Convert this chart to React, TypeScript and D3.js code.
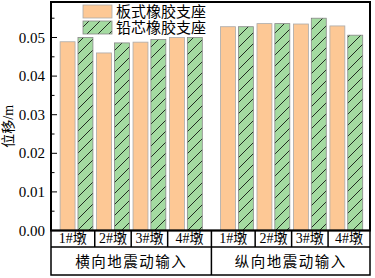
import * as d3 from "d3";

const piers = ["1#墩", "2#墩", "3#墩", "4#墩"];
const groups = ["横向地震动输入", "纵向地震动输入"];
const seriesNames = ["板式橡胶支座", "铅芯橡胶支座"];
// bar values, order: 横向 1#..4#, 纵向 1#..4#
const plateValues = [0.0489, 0.046, 0.0488, 0.05, 0.0528, 0.0536, 0.0535, 0.053];
const leadValues = [0.05, 0.0486, 0.0495, 0.05, 0.0528, 0.0536, 0.055, 0.0506];
// category slots on the x axis (the two groups are set apart a little)
const slots = [1, 2, 3, 4, 5.4, 6.4, 7.4, 8.4];
const yTicks = [0, 0.01, 0.02, 0.03, 0.04, 0.05];

const W = 375;
const H = 278;
const left = 51;
const right = 370;
const top = 2;
const bottom = 230.5;
const row1 = 247;
const row2 = 275;

const serif = "'Liberation Serif', 'Noto Sans CJK SC', serif";

export default function App() {
  const x = d3.scaleLinear().domain([0.3, 9.05]).range([left, right]);
  const y = d3.scaleLinear().domain([0, 0.0592]).range([bottom, top]);
  const unit = x(1) - x(0);
  const bw = 0.41 * unit;
  const off = 0.245 * unit;
  const minor = d3.range(0.005, 0.059, 0.01);

  const bounds = [x(0.3), ...slots.slice(0, -1).map((s, i) => x((s + slots[i + 1]) / 2)), x(9.05)];
  const mid = bounds[4];

  return (
    <svg width={W} height={H} style={{ position: "absolute", left: 0, top: 0, background: "#fff" }}>
      <defs>
        <pattern id="hatch" patternUnits="userSpaceOnUse" width={11} height={11}>
          <rect width={11} height={11} fill="#a4dba1" />
          <line x1={-1} y1={12} x2={12} y2={-1} stroke="#000" strokeWidth={0.8} />
        </pattern>
      </defs>

      {slots.map((s, i) => (
        <g key={i}>
          <rect
            x={x(s) - off - bw / 2}
            y={y(plateValues[i])}
            width={bw}
            height={bottom - y(plateValues[i])}
            fill="#fdc895"
            stroke="#aaa"
            strokeWidth={0.8}
          />
          <rect
            x={x(s) + off - bw / 2}
            y={y(leadValues[i])}
            width={bw}
            height={bottom - y(leadValues[i])}
            fill="url(#hatch)"
            stroke="#888"
            strokeWidth={0.8}
          />
        </g>
      ))}

      {/* y ticks, pointing inward */}
      {yTicks.map((t) => (
        <g key={t}>
          <line x1={left} x2={left + 6} y1={y(t)} y2={y(t)} stroke="#000" strokeWidth={1} />
          <text x={left - 6} y={y(t) + 5} textAnchor="end" fontSize={15} fontFamily={serif}>
            {t.toFixed(2)}
          </text>
        </g>
      ))}
      {minor.map((t) => (
        <line key={t} x1={left} x2={left + 3.5} y1={y(t)} y2={y(t)} stroke="#000" strokeWidth={1} />
      ))}

      <text
        transform={`translate(13,${(top + bottom) / 2 + 10}) rotate(-90)`}
        textAnchor="middle"
        fontSize={14}
        fontFamily={serif}
      >
        位移/m
      </text>

      {/* legend */}
      <rect x={83} y={5} width={29} height={13} fill="#fdc895" stroke="#aaa" strokeWidth={0.8} />
      <rect x={83} y={21} width={29} height={13} fill="url(#hatch)" stroke="#888" strokeWidth={0.8} />
      {seriesNames.map((n, i) => (
        <text key={n} x={116} y={17 + i * 16} fontSize={15} fontFamily={serif}>
          {n}
        </text>
      ))}

      {/* frame */}
      <rect x={left} y={top} width={right - left} height={bottom - top} fill="none" stroke="#000" strokeWidth={2} />

      {/* category table */}
      <rect x={left} y={bottom} width={right - left} height={row2 - bottom} fill="none" stroke="#000" strokeWidth={1.5} />
      <line x1={left} x2={right} y1={row1} y2={row1} stroke="#000" strokeWidth={1.5} />
      {bounds.slice(1, -1).map((b, i) => (
        <line key={i} x1={b} x2={b} y1={bottom} y2={i === 3 ? row2 : row1} stroke="#000" strokeWidth={1.5} />
      ))}
      {slots.map((s, i) => (
        <text key={i} x={(bounds[i] + bounds[i + 1]) / 2} y={row1 - 4} textAnchor="middle" fontSize={14} fontFamily={serif}>
          {piers[i % 4]}
        </text>
      ))}
      {groups.map((g, i) => (
        <text
          key={g}
          x={i === 0 ? (left + mid) / 2 : (mid + right) / 2}
          y={row2 - 8}
          textAnchor="middle"
          fontSize={14.5}
          letterSpacing={1.5}
          fontFamily={serif}
        >
          {g}
        </text>
      ))}
    </svg>
  );
}
